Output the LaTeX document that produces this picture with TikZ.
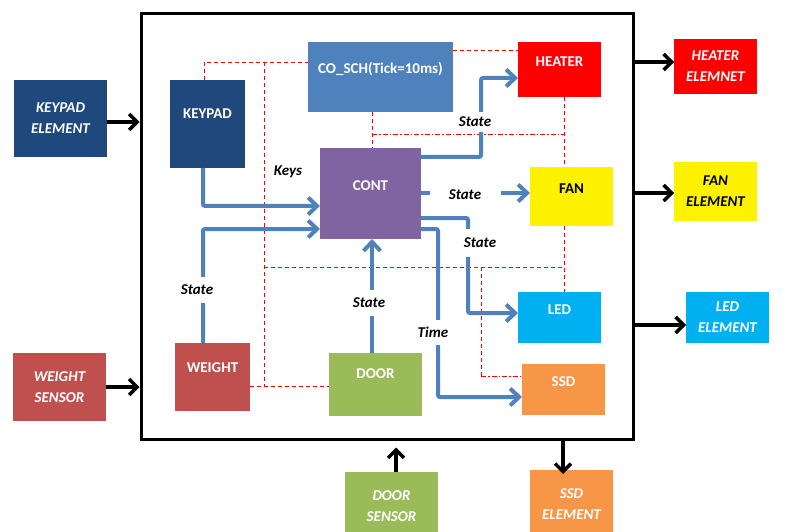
\documentclass[tikz,border=0pt]{standalone}
\usepackage{fontspec}
\setmainfont{Carlito}
\usetikzlibrary{arrows.meta}

\definecolor{navy}{HTML}{1F497D}
\definecolor{schblue}{HTML}{4F81BD}
\definecolor{flowblue}{HTML}{4F81BD}
\definecolor{contpurple}{HTML}{8064A2}
\definecolor{ledcyan}{HTML}{00B0F0}
\definecolor{ssdorange}{HTML}{F79646}
\definecolor{weightred}{HTML}{C0504D}
\definecolor{doorgreen}{HTML}{9BBB59}

\newcommand\diagfont{\fontsize{15}{21}\selectfont}

\begin{document}
\begin{tikzpicture}[x=1pt,y=-1pt,
  blk/.style={rectangle, inner sep=0pt, outer sep=0pt, draw=none},
  intext/.style={text=white, font=\diagfont\bfseries, yshift=8pt, inner sep=0pt},
  ext/.style={blk, text=white, font=\diagfont\bfseries\itshape, align=center},
  outarrow/.style={draw=black, line width=3.5pt, -{Straight Barb[length=8pt,width=16pt]}},
  flow/.style={draw=flowblue, line width=4pt, rounded corners=2pt, -{Straight Barb[length=9pt,width=17pt]}},
  lbl/.style={fill=white, inner sep=0pt, font=\diagfont\bfseries\itshape},
  reddash/.style={draw=red, line width=0.8pt, dash pattern=on 4pt off 3pt},
  reddashdot/.style={draw=red, line width=0.8pt, dash pattern=on 5pt off 2pt on 1.5pt off 2pt}]

\useasboundingbox (0,0) rectangle (785,532);
\clip (0,0) rectangle (785,532);

% system frame
\node[draw=black, line width=3pt, inner sep=0pt, minimum width=492pt, minimum height=425pt] (frame) at (387,226.5) {};

% external elements
\node[ext, fill=navy, minimum width=93pt, minimum height=77pt] (ke) at (60.5,118.5) {KEYPAD\\ELEMENT};
\node[ext, fill=weightred, minimum width=93pt, minimum height=68pt] (ws) at (59.5,387) {WEIGHT\\SENSOR};
\node[ext, fill=red, minimum width=83pt, minimum height=55pt] (he) at (715.5,66.5) {HEATER\\ELEMNET};
\node[ext, fill=yellow, text=black, minimum width=83pt, minimum height=59pt] (fe) at (715.5,191.5) {FAN\\ELEMENT};
\node[ext, fill=ledcyan, minimum width=83pt, minimum height=51pt] (le) at (727.5,317.5) {LED\\ELEMENT};
\node[ext, fill=doorgreen, minimum width=93pt, minimum height=68pt] (ds) at (391.5,506) {DOOR\\SENSOR};
\node[ext, fill=ssdorange, minimum width=83pt, minimum height=68pt] (se) at (571.5,504) {SSD\\ELEMENT};

% internal modules
\node[blk, fill=navy, minimum width=75pt, minimum height=88pt, label={[intext, yshift=2pt]center:KEYPAD}] (kp) at (207.5,124) {};
\node[blk, fill=schblue, minimum width=145pt, minimum height=70pt, label={[intext]center:CO\_SCH(Tick=10ms)}] (sch) at (380.5,77) {};
\node[blk, fill=red, minimum width=83pt, minimum height=55pt, label={[intext]center:HEATER}] (ht) at (559.5,69.5) {};
\node[blk, fill=contpurple, minimum width=101pt, minimum height=91pt, label={[intext]center:CONT}] (ct) at (370.5,193.5) {};
\node[blk, fill=yellow, minimum width=83pt, minimum height=59pt, label={[intext, text=black]center:FAN}] (fn) at (571.5,196.5) {};
\node[blk, fill=ledcyan, minimum width=83pt, minimum height=51pt, label={[intext]center:LED}] (ld) at (559.5,317.5) {};
\node[blk, fill=ssdorange, minimum width=83pt, minimum height=51pt, label={[intext]center:SSD}] (sd) at (563.5,389.5) {};
\node[blk, fill=weightred, minimum width=75pt, minimum height=68pt, label={[intext, yshift=1pt]center:WEIGHT}] (wt) at (212.5,377) {};
\node[blk, fill=doorgreen, minimum width=93pt, minimum height=63pt, label={[intext, yshift=3pt]center:DOOR}] (dr) at (375.5,384.5) {};

% scheduler tick lines
\coordinate (tk1) at (264,62);
\coordinate (tk2) at (264,386);
\coordinate (tk3) at (372,134);
\coordinate (tk4) at (564,134);
\coordinate (tk5) at (264,267);
\coordinate (tk6) at (564,267);
\coordinate (tk7) at (481,267);
\coordinate (tk8) at (481,376);
\draw[reddash] (kp.north -| 204,0) |- (sch.west |- 0,62);
\draw[reddash] (tk1) -- (tk2);
\draw[reddash] (wt.east |- 0,386) -- (dr.west |- 0,386);
\draw[reddash] (sch.east |- 0,50) -- (ht.west |- 0,50);
\draw[reddash] (sch.south -| 372,0) -- (ct.north -| 372,0);
\draw[reddashdot] (tk3) -- (tk4);
\draw[reddash] (ht.south -| 564,0) -- (fn.north -| 564,0);
\draw[reddash] (fn.south -| 564,0) -- (ld.north -| 564,0);
\draw[reddash] (tk5) -- (tk6);
\draw[reddash] (tk7) -- (tk8);
\draw[reddashdot] (tk8) -- (sd.west |- 0,376);

% data flows
\draw[flow] (kp.south -| 203,0) |- (ct.west |- 0,206);
\draw[flow] (wt.north -| 203,0) |- (ct.west |- 0,229);
\draw[flow] (dr.north -| 372,0) -- (ct.south -| 372,0);
\draw[flow] (ct.east |- 0,157) -| (481,78) -- (ht.west |- 0,78);
\draw[flow] (ct.east |- 0,193) -- (fn.west |- 0,193);
\draw[flow] (ct.east |- 0,218) -| (468,313) -- (ld.west |- 0,313);
\draw[flow] (ct.east |- 0,229) -| (438,397) -- (sd.west |- 0,397);

% flow labels
\node[lbl, minimum width=36pt, minimum height=26pt] (l1) at (197,290) {State};
\node[lbl, minimum width=36pt, minimum height=26pt] (l2) at (369,303) {State};
\node[lbl, minimum width=36pt, minimum height=20pt] (l3) at (475,122) {State};
\node[lbl, minimum width=71pt, minimum height=20pt] (l4) at (465,195) {State};
\node[lbl, minimum width=36pt, minimum height=28pt] (l5) at (480,243) {State};
\node[lbl, minimum width=32pt, minimum height=25pt] (l6) at (433,332) {Time};
\node[font=\diagfont\bfseries\itshape, inner sep=0pt] (l7) at (288,172) {Keys};

% links to the outside
\draw[outarrow] (ke.east |- 0,122) -- (frame.west |- 0,122);
\draw[outarrow] (ws.east |- 0,387) -- (frame.west |- 0,387);
\draw[outarrow] (frame.east |- 0,62) -- (he.west |- 0,62);
\draw[outarrow] (frame.east |- 0,193) -- (fe.west |- 0,193);
\draw[outarrow] (frame.east |- 0,325) -- (le.west |- 0,325);
\draw[outarrow] (ds.north -| 396,0) -- ([yshift=-7pt]frame.south -| 396,0);
\draw[outarrow] (frame.south -| 563,0) -- ([yshift=-4pt]se.north -| 563,0);

\end{tikzpicture}
\end{document}
